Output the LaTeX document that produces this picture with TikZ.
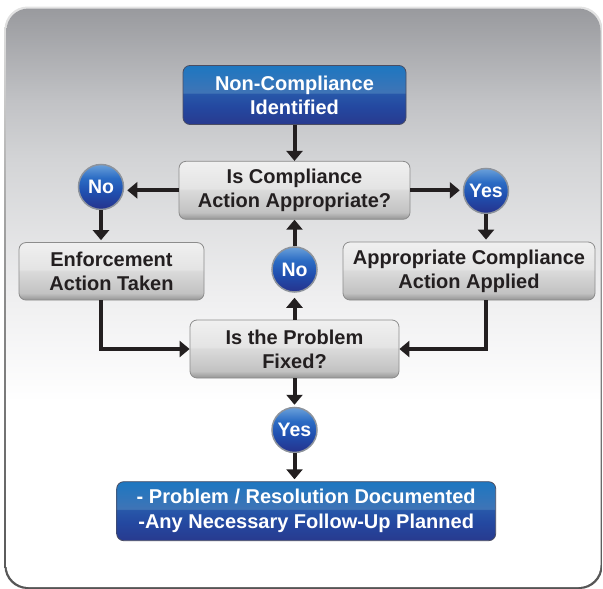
\documentclass[tikz,border=0pt]{standalone}
\usepackage{fontspec}
\setmainfont{Liberation Sans}
\usetikzlibrary{arrows.meta}
\definecolor{bg1}{HTML}{EFEFF0}
\definecolor{bg2}{HTML}{D3D4D6}
\definecolor{bg3}{HTML}{C1C2C5}
\definecolor{bg4}{HTML}{999A9E}
\definecolor{fr0}{HTML}{555555}
\definecolor{fr1}{HTML}{E4E4E4}
\definecolor{g0}{HTML}{959595}
\definecolor{g1}{HTML}{C2C2C2}
\definecolor{g2}{HTML}{DADADA}
\definecolor{g3}{HTML}{E4E4E4}
\definecolor{g4}{HTML}{F0F0F0}
\definecolor{gborder}{HTML}{8C8C8C}
\definecolor{b0}{HTML}{283A8E}
\definecolor{b1}{HTML}{2448A0}
\definecolor{b2}{HTML}{2757A9}
\definecolor{b3}{HTML}{3F74B6}
\definecolor{b4}{HTML}{1D77C1}
\definecolor{bborder}{HTML}{4A4D62}
\definecolor{c0}{HTML}{26328C}
\definecolor{c1}{HTML}{2050B0}
\definecolor{c2}{HTML}{2B6CC4}
\definecolor{c3}{HTML}{6AA0DA}
\definecolor{cborder}{HTML}{8D939C}
\definecolor{txt}{HTML}{231F20}
\pgfdeclareverticalshading{bgshade}{100bp}{color(0bp)=(white); color(41bp)=(white); color(50bp)=(bg1); color(62bp)=(bg2); color(67bp)=(bg3); color(75bp)=(bg4); color(100bp)=(bg4)}
\pgfdeclareverticalshading{frshade}{100bp}{color(0bp)=(fr0); color(25bp)=(fr0); color(50bp)=(gborder); color(75bp)=(fr1); color(100bp)=(fr1)}
\pgfdeclareverticalshading{gshade}{100bp}{color(0bp)=(g0); color(25bp)=(g0); color(31bp)=(g1); color(50bp)=(g2); color(52bp)=(g3); color(75bp)=(g4); color(100bp)=(g4)}
\pgfdeclareverticalshading{bshade}{100bp}{color(0bp)=(b0); color(25bp)=(b0); color(40bp)=(b1); color(51bp)=(b2); color(52bp)=(b3); color(75bp)=(b4); color(100bp)=(b4)}
\pgfdeclareverticalshading{cshade}{100bp}{color(0bp)=(c0); color(25bp)=(c0); color(45bp)=(c1); color(60bp)=(c2); color(75bp)=(c3); color(100bp)=(c3)}
\tikzset{
  gbox/.style={rounded corners=7pt, shade, shading=gshade, draw=gborder, line width=0.8pt,
    text=txt, font=\fontsize{20}{24}\selectfont\bfseries, align=center, inner sep=0pt},
  bbox/.style={rounded corners=7pt, shade, shading=bshade, draw=bborder, line width=0.8pt,
    text=white, font=\fontsize{20}{24}\selectfont\bfseries, align=center, inner sep=0pt},
  ball/.style={circle, minimum size=45pt, inner sep=0pt, shade, shading=cshade, draw=cborder,
    line width=1.5pt, text=white, font=\fontsize{19.5}{22}\selectfont\bfseries},
  arr/.style={draw=txt, line width=4pt, -{Triangle[width=16pt,length=10pt]}},
  gap/.style={shorten >=3pt}
}
\begin{document}
\begin{tikzpicture}[x=1pt,y=-1pt]
\useasboundingbox (0,0) rectangle (603,589);
% frame
\shade[shading=frshade, rounded corners=23pt] (4.5,6.5) rectangle (602.5,589);
\shade[shading=bgshade, rounded corners=22pt] (6.5,8.5) rectangle (600.5,587);
% nodes
\node[bbox, minimum width=223pt, minimum height=59pt] (top) at (294.5,95) {Non-Compliance\\Identified};
\node[gbox, minimum width=231pt, minimum height=58pt] (q1) at (294.5,190.3) {Is Compliance\\Action Appropriate?};
\node[ball] (noL) at (101,187) {No};
\node[ball] (yes1) at (486,191) {Yes};
\node[gbox, minimum width=185pt, minimum height=57.5pt] (enf) at (111.5,271.3) {Enforcement\\Action Taken};
\node[gbox, minimum width=252pt, minimum height=58pt] (app) at (469,271) {Appropriate Compliance\\Action Applied};
\node[ball] (noM) at (294.5,269.5) {No};
\node[gbox, minimum width=209pt, minimum height=58pt] (fixed) at (294.5,349) {Is the Problem\\Fixed?};
\node[ball] (yes2) at (294.5,430) {Yes};
\node[bbox, minimum width=379pt, minimum height=59pt, font=\fontsize{20}{25}\selectfont\bfseries] (bot) at (306.2,511.2) {- Problem / Resolution Documented\\-Any Necessary Follow-Up Planned};
% connectors
\draw[arr] (top.south) -- (q1.north);
\draw[arr, gap] (q1.west) -- (q1.west -| noL.east);
\draw[arr, gap] (q1.east) -- (q1.east -| yes1.west);
\draw[arr, shorten >=2pt] (noL.south) -- (noL.south |- enf.north);
\draw[arr, shorten >=2pt] (yes1.south) -- (yes1.south |- app.north);
\draw[arr] (noM.north) -- (q1.south);
\draw[arr, shorten >=5pt] (fixed.north) -- (noM.south);
\draw[arr, shorten >=2pt] (fixed.south) -- (yes2.north);
\draw[arr, shorten >=2pt] (yes2.south) -- (yes2.south |- bot.north);
\draw[arr] (noL.south |- enf.south) |- (fixed.west);
\draw[arr] (yes1.south |- app.south) |- (fixed.east);
\end{tikzpicture}
\end{document}
